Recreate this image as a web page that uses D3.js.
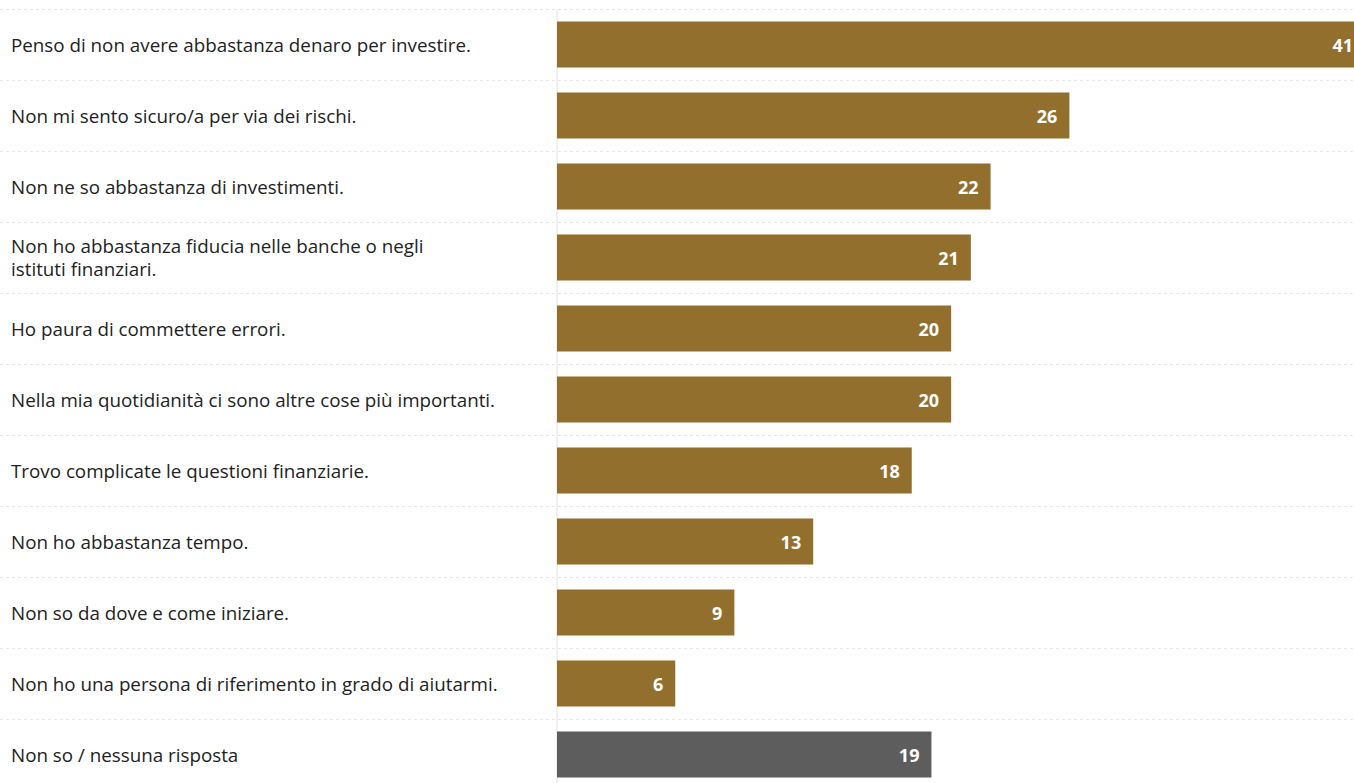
<!DOCTYPE html>
<html lang="it">
<head>
<meta charset="UTF-8">
<script src="https://d3js.org/d3.v7.min.js"></script>
<style>
  body { margin: 0; background: #fff; }
  .lbl { font-family: "Open Sans", sans-serif; font-size: 18.8px; fill: #222; }
  .val { font-family: "Open Sans", sans-serif; font-size: 18px; font-weight: 700; fill: #fff; }
</style>
</head>
<body>
<div id="chart"></div>
<script>
// categories ("|" splits a label into lines)
var categories = [
  "Penso di non avere abbastanza denaro per investire.",
  "Non mi sento sicuro/a per via dei rischi.",
  "Non ne so abbastanza di investimenti.",
  "Non ho abbastanza fiducia nelle banche o negli|istituti finanziari.",
  "Ho paura di commettere errori.",
  "Nella mia quotidianità ci sono altre cose più importanti.",
  "Trovo complicate le questioni finanziarie.",
  "Non ho abbastanza tempo.",
  "Non so da dove e come iniziare.",
  "Non ho una persona di riferimento in grado di aiutarmi.",
  "Non so / nessuna risposta"
];
var values = [41, 26, 22, 21, 20, 20, 18, 13, 9, 6, 19];
var kinds = ["reason","reason","reason","reason","reason","reason","reason","reason","reason","reason","none"];

var width = 1354, height = 783;
var colors = { reason: "#936f2d", none: "#5c5d5c" };

var svg = d3.select("#chart").append("svg")
    .attr("width", width)
    .attr("height", height);

var x = d3.scaleLinear().domain([0, 41]).range([557, 1365]);
var y = d3.scaleBand().domain(categories).range([9, 790])
    .paddingInner(0.352).paddingOuter(0.176);

var rows = categories.map(function(c, i) { return { cat: c, v: values[i], kind: kinds[i] }; });

// dashed separators
svg.selectAll(".sep").data(categories).enter().append("line")
    .attr("x1", 0).attr("x2", width)
    .attr("y1", function(d) { return Math.round(y(d) - y.step() * y.paddingInner() / 2) + 0.5; })
    .attr("y2", function(d) { return Math.round(y(d) - y.step() * y.paddingInner() / 2) + 0.5; })
    .attr("stroke", "#e6e6e6")
    .attr("stroke-dasharray", "3,3");

// axis line
var axis = svg.append("g")
    .attr("transform", "translate(556.5,0)")
    .call(d3.axisLeft(y).tickSize(0).tickFormat(""));
axis.select(".domain").attr("stroke", "#ecebe4").attr("stroke-width", 1.5);

// bars
svg.selectAll(".bar").data(rows).enter().append("rect")
    .attr("x", x(0))
    .attr("y", function(d) { return y(d.cat); })
    .attr("width", function(d) { return x(d.v) - x(0); })
    .attr("height", y.bandwidth())
    .attr("fill", function(d) { return colors[d.kind]; });

// value labels
svg.selectAll(".val").data(rows).enter().append("text")
    .attr("class", "val")
    .attr("x", function(d) { return x(d.v) - 12; })
    .attr("y", function(d) { return y(d.cat) + y.bandwidth() / 2; })
    .attr("dy", "0.42em")
    .attr("text-anchor", "end")
    .text(function(d) { return d.v; });

// category labels
var lbl = svg.selectAll(".lbl").data(rows).enter().append("text")
    .attr("class", "lbl")
    .attr("x", 11)
    .attr("y", function(d) { return y(d.cat) + y.bandwidth() / 2; });

lbl.each(function(d) {
  var lines = d.cat.split("|");
  var t = d3.select(this);
  lines.forEach(function(l, i) {
    t.append("tspan")
      .attr("x", 11)
      .attr("dy", i === 0 ? (0.42 - (lines.length - 1) * 0.66) + "em" : "1.24em")
      .text(l);
  });
});
</script>
</body>
</html>
